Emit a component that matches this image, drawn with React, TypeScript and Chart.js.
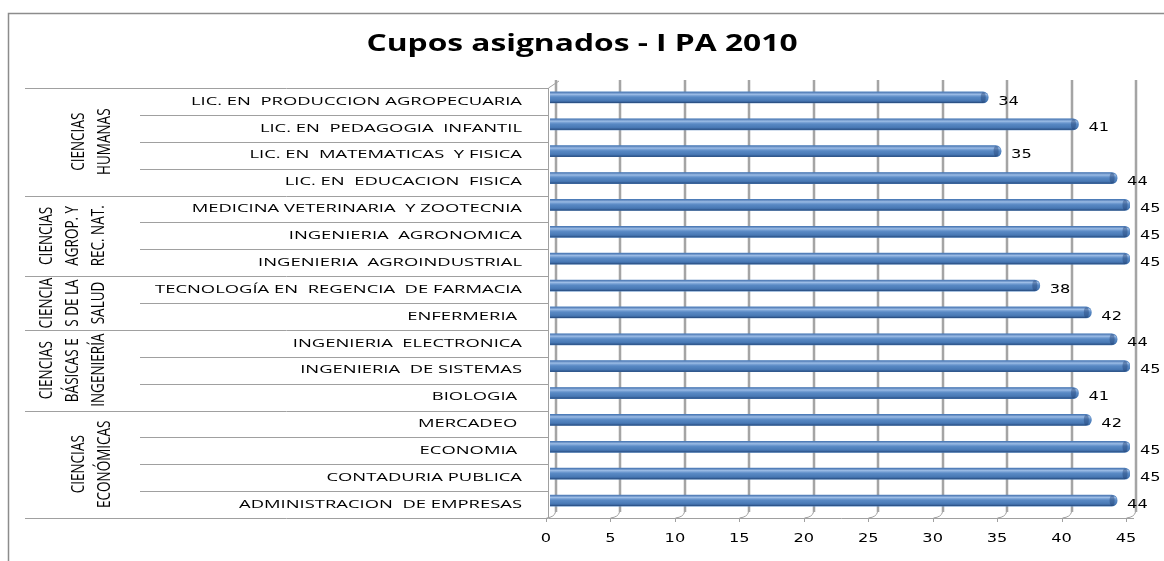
import React, { useEffect, useRef } from 'react';
import { Chart, registerables } from 'chart.js';

Chart.register(...registerables);

const programs = [
  'LIC. EN  PRODUCCION AGROPECUARIA',
  'LIC. EN  PEDAGOGIA  INFANTIL',
  'LIC. EN  MATEMATICAS  Y FISICA',
  'LIC. EN  EDUCACION  FISICA',
  'MEDICINA VETERINARIA  Y ZOOTECNIA',
  'INGENIERIA  AGRONOMICA',
  'INGENIERIA  AGROINDUSTRIAL',
  'TECNOLOGÍA EN  REGENCIA  DE FARMACIA',
  'ENFERMERIA ',
  'INGENIERIA  ELECTRONICA',
  'INGENIERIA  DE SISTEMAS',
  'BIOLOGIA ',
  'MERCADEO ',
  'ECONOMIA ',
  'CONTADURIA PUBLICA',
  'ADMINISTRACION  DE EMPRESAS',
];
const cupos = [34, 41, 35, 44, 45, 45, 45, 38, 42, 44, 45, 41, 42, 45, 45, 44];
const groupNames = [
  ['CIENCIAS', 'HUMANAS'],
  ['CIENCIAS', 'AGROP. Y', 'REC. NAT.'],
  ['CIENCIA', 'S DE LA', 'SALUD'],
  ['CIENCIAS', 'BÁSICAS E', 'INGENIERÍA'],
  ['CIENCIAS', 'ECONÓMICAS'],
];
const groupSizes = [4, 3, 2, 3, 4];
const xMin = 0;
const xMax = 45;
const xStep = 5;
const titleText = 'Cupos asignados - I PA 2010';

const LINE = '#a0a0a0';
const STRETCH_LABELS = 1.6;
const STRETCH_TITLE = 1.38;
const STRETCH_NUM = 1.35;

const decorPlugin = {
  id: 'decor',
  afterLayout(chart: any) {
    const tb = chart.titleBlock;
    if (tb && !tb.__wrapped) {
      const orig = tb.draw.bind(tb);
      tb.draw = () => {
        const ctx = chart.ctx;
        const cx = (tb.left + tb.right) / 2;
        ctx.save();
        ctx.translate(cx, 0);
        ctx.scale(STRETCH_TITLE, 1);
        ctx.translate(-cx, 0);
        orig();
        ctx.restore();
      };
      tb.__wrapped = true;
    }
    const ys = chart.scales.y;
    if (ys && !ys.__wrapped) {
      const orig = ys.drawLabels.bind(ys);
      ys.drawLabels = (a: any) => {
        const ctx = chart.ctx;
        const ax = chart.chartArea.left - 28;
        ctx.save();
        ctx.translate(ax, 0);
        ctx.scale(STRETCH_LABELS, 1);
        ctx.translate(-ax, 0);
        orig(a);
        ctx.restore();
      };
      ys.__wrapped = true;
    }
    const xs = chart.scales.x;
    if (xs && !xs.__wrapped) {
      xs.drawLabels = (a: any) => {
        const ctx = chart.ctx;
        const items = xs.getLabelItems(a);
        for (const item of items) {
          const o = item.options;
          const [tx, ty] = o.translation;
          ctx.save();
          ctx.translate(tx, ty);
          ctx.scale(STRETCH_NUM, 1);
          ctx.font = item.font.string;
          ctx.fillStyle = o.color || '#000';
          ctx.textAlign = o.textAlign;
          ctx.textBaseline = o.textBaseline;
          ctx.fillText(String(item.label), 0, item.textOffset);
          ctx.restore();
        }
      };
      xs.__wrapped = true;
    }
  },
  beforeDraw(chart: any) {
    const ctx = chart.ctx;
    ctx.save();
    ctx.strokeStyle = '#8c8c8c';
    ctx.lineWidth = 1.5;
    ctx.beginPath();
    ctx.moveTo(8.5, 561);
    ctx.lineTo(8.5, 13.5);
    ctx.lineTo(1164, 13.5);
    ctx.stroke();
    ctx.restore();
  },
  beforeDatasetsDraw(chart: any) {
    const ctx = chart.ctx;
    const area = chart.chartArea;
    const n = programs.length;
    const h = (area.bottom - area.top) / n;
    const bottomY = area.top + n * h + 4;
    const xs = chart.scales.x;
    ctx.save();
    for (let v = xMin; v <= xMax; v += xStep) {
      const x = Math.round(xs.getPixelForValue(v)) + 6;
      const g = ctx.createLinearGradient(x - 1.5, 0, x + 1.5, 0);
      g.addColorStop(0, '#d0d0d0');
      g.addColorStop(0.5, '#8f8f8f');
      g.addColorStop(1, '#cfcfcf');
      ctx.fillStyle = g;
      ctx.fillRect(x - 1.5, area.top - 4, 3, bottomY - 6 - (area.top - 4));
    }
    ctx.restore();
  },
  afterDatasetsDraw(chart: any) {
    const ctx = chart.ctx;
    const area = chart.chartArea;
    const n = programs.length;
    const h = (area.bottom - area.top) / n;
    const off = 4;
    const axisX = area.left - 2;
    const bottomY = area.top + n * h + off;

    const meta = chart.getDatasetMeta(0);
    meta.data.forEach((bar: any) => {
      const top = bar.y - bar.height / 2;
      const g = ctx.createLinearGradient(0, top, 0, top + bar.height);
      g.addColorStop(0, 'rgba(70,110,170,0.6)');
      g.addColorStop(0.22, 'rgba(190,215,248,0.7)');
      g.addColorStop(0.5, 'rgba(130,170,225,0.15)');
      g.addColorStop(0.8, 'rgba(40,80,140,0.2)');
      g.addColorStop(1, 'rgba(25,55,100,0.8)');
      ctx.save();
      ctx.fillStyle = g;
      ctx.beginPath();
      const r = bar.height / 2;
      const x0 = bar.base;
      const x1 = bar.x;
      ctx.moveTo(x0, top);
      ctx.lineTo(x1 - r, top);
      ctx.arc(x1 - r, bar.y, r, -Math.PI / 2, Math.PI / 2);
      ctx.lineTo(x0, top + bar.height);
      ctx.closePath();
      ctx.fill();
      ctx.fillStyle = 'rgba(30,60,110,0.4)';
      ctx.beginPath();
      ctx.ellipse(x1 - r + 0.5, bar.y, 2.5, r - 0.5, 0, 0, Math.PI * 2);
      ctx.fill();
      ctx.restore();
    });

    ctx.save();
    ctx.strokeStyle = LINE;
    ctx.lineWidth = 1;
    let acc = 0;
    const groupBounds = [0];
    groupSizes.forEach((s) => { acc += s; groupBounds.push(acc); });
    for (let k = 0; k <= n; k++) {
      const y = Math.round(area.top + k * h + off) + 0.5;
      const isGroup = groupBounds.indexOf(k) >= 0;
      ctx.beginPath();
      ctx.moveTo(isGroup ? 25 : 140, y);
      ctx.lineTo(axisX, y);
      ctx.stroke();
    }
    ctx.beginPath();
    ctx.moveTo(axisX + 0.5, area.top + off);
    ctx.lineTo(axisX + 0.5, Math.round(bottomY) + 0.5);
    ctx.lineTo(area.right + 4, Math.round(bottomY) + 0.5);
    ctx.stroke();
    ctx.beginPath();
    ctx.moveTo(axisX + 0.5, area.top + off);
    ctx.lineTo(axisX + 11, area.top - 3);
    ctx.stroke();
    const xs = chart.scales.x;
    for (let v = xMin; v <= xMax; v += xStep) {
      const x = Math.round(xs.getPixelForValue(v)) - 3.5;
      ctx.beginPath();
      ctx.moveTo(x, bottomY);
      ctx.lineTo(x, bottomY + 4);
      ctx.stroke();
      ctx.beginPath();
      ctx.moveTo(x, bottomY);
      ctx.quadraticCurveTo(x + 8, bottomY - 1, x + 9, bottomY - 6);
      ctx.stroke();
    }
    ctx.restore();

    // group labels (rotated)
    ctx.save();
    ctx.fillStyle = '#000';
    ctx.font = '13.5px "Open Sans", sans-serif';
    ctx.textAlign = 'center';
    ctx.textBaseline = 'middle';
    let start = 0;
    groupNames.forEach((lines, i) => {
      const y0 = area.top + start * h + off;
      const y1 = area.top + (start + groupSizes[i]) * h + off;
      const cy = (y0 + y1) / 2;
      const firstX = lines.length === 3 ? 47 : 79;
      lines.forEach((t, j) => {
        ctx.save();
        ctx.translate(firstX + j * 26, cy);
        ctx.scale(1.3, 1);
        ctx.rotate(-Math.PI / 2);
        ctx.fillText(t, 0, 0);
        ctx.restore();
      });
      start += groupSizes[i];
    });
    ctx.restore();

    // data labels
    ctx.save();
    ctx.fillStyle = '#000';
    ctx.font = '12px "DejaVu Sans", sans-serif';
    ctx.textAlign = 'left';
    ctx.textBaseline = 'middle';
    meta.data.forEach((bar: any, i: number) => {
      const lx = bar.x + 10;
      ctx.save();
      ctx.translate(lx, 0);
      ctx.scale(STRETCH_NUM, 1);
      ctx.fillText(String(cupos[i]), 0, bar.y + 4);
      ctx.restore();
    });
    ctx.restore();
  },
};

export default function App() {
  const ref = useRef<HTMLCanvasElement>(null);
  useEffect(() => {
    if (!ref.current) return;
    const chart = new Chart(ref.current, {
      type: 'bar',
      data: {
        labels: programs,
        datasets: [
          {
            data: cupos,
            backgroundColor: '#4f81bd',
            borderWidth: 0,
            borderRadius: { topLeft: 0, bottomLeft: 0, topRight: 5.5, bottomRight: 5.5 },
            borderSkipped: false,
            barThickness: 11,
          },
        ],
      },
      options: {
        indexAxis: 'y',
        animation: false,
        responsive: false,
        maintainAspectRatio: false,
        layout: { padding: { left: 34, right: 34, top: 0, bottom: 0 } },
        plugins: {
          legend: { display: false },
          tooltip: { enabled: false },
          title: {
            display: true,
            text: titleText,
            color: '#000',
            font: { family: '"Open Sans", sans-serif', size: 23, weight: 'bold', lineHeight: 1.2 },
            padding: { top: 31, bottom: 25.4 },
          },
        },
        scales: {
          x: {
            min: xMin,
            max: xMax,
            ticks: {
              stepSize: xStep,
              color: '#000',
              font: { family: '"DejaVu Sans", sans-serif', size: 12 },
              padding: 18,
              labelOffset: -4,
            },
            grid: { display: false, drawTicks: false },
            border: { display: false },
            afterFit: (s: any) => { s.height = 47; },
          },
          y: {
            ticks: {
              color: '#000',
              font: { family: '"Open Sans", sans-serif', size: 11.5 },
              padding: 28,
              labelOffset: 4,
              autoSkip: false,
            },
            grid: { display: false, drawTicks: false },
            border: { display: false },
            afterFit: (s: any) => { s.width = 516; },
          },
        },
      },
      plugins: [decorPlugin],
    });
    return () => chart.destroy();
  }, []);
  return (
    <div style={{ position: 'absolute', left: 0, top: 0, width: 1164, height: 561, background: '#fff' }}>
      <canvas ref={ref} width={1164} height={561} style={{ display: 'block' }} />
    </div>
  );
}
